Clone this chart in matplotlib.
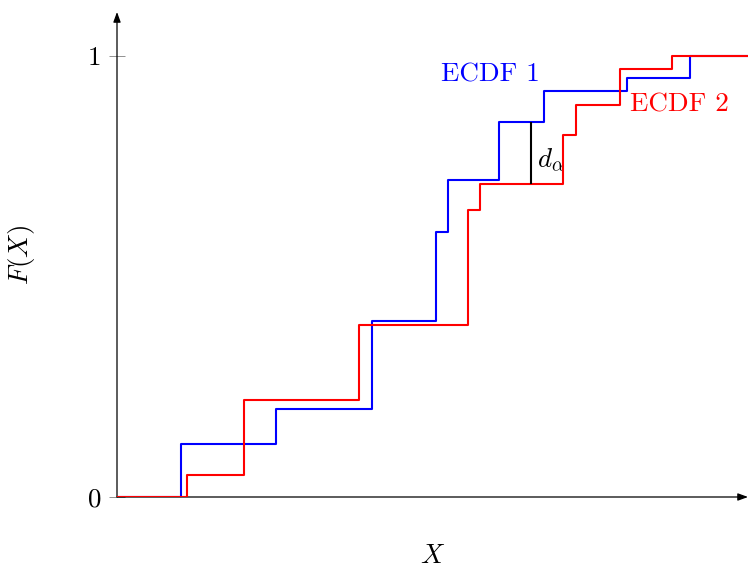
import numpy as np
import matplotlib
matplotlib.use("Agg")
import matplotlib.pyplot as plt

plt.rcParams['font.family'] = ['cmr10', 'DejaVu Serif']
plt.rcParams['mathtext.fontset'] = 'cm'
plt.rcParams['axes.formatter.use_mathtext'] = True

# step points of the two empirical CDFs (post-step)
ecdf1_x = [0, 1.01, 2.52, 4.04, 5.05, 5.24, 6.05, 6.77, 8.08, 9.08, 10.0]
ecdf1_y = [0, 0.12, 0.20, 0.40, 0.60, 0.72, 0.85, 0.92, 0.95, 1.00, 1.00]
ecdf2_x = [0, 1.11, 2.02, 3.84, 5.56, 5.75, 7.07, 7.27, 7.97, 8.79, 10.0]
ecdf2_y = [0, 0.05, 0.22, 0.39, 0.65, 0.71, 0.82, 0.89, 0.97, 1.00, 1.00]
d_x = 6.56
yticks = [0, 1]
yticklabels = ['0', '1']

FS = 19.5


def step_value(xs, ys, x):
    idx = np.searchsorted(xs, x, side='right') - 1
    return ys[idx]


fig = plt.figure(figsize=(7.48, 5.67), dpi=100)
ax = fig.add_axes([117 / 748, 70 / 567, 631 / 748, 485 / 567])
ax.set_xlim(0, 10)
ax.set_ylim(0, 1.1)

ax.step(ecdf1_x, ecdf1_y, where='post', color='blue', lw=1.5, zorder=3)
ax.step(ecdf2_x, ecdf2_y, where='post', color='red', lw=1.5, zorder=4)

# largest gap between the two curves
lo = step_value(ecdf2_x, ecdf2_y, d_x)
hi = step_value(ecdf1_x, ecdf1_y, d_x)
ax.vlines(d_x, lo, hi, color='black', lw=1.5, zorder=5)
ax.text(d_x + 0.1, (lo + hi) / 2 - 0.017, r'$d_\alpha$', fontsize=FS, va='center', ha='left')

ax.text(5.13, 0.957, 'ECDF 1', color='blue', fontsize=FS, va='center', ha='left')
ax.text(8.13, 0.890, 'ECDF 2', color='red', fontsize=FS, va='center', ha='left')

# axes drawn as arrows
for s in ax.spines.values():
    s.set_visible(False)
arrow = dict(arrowstyle='-|>,head_length=0.6,head_width=0.22', lw=0.9, color='black',
             shrinkA=0, shrinkB=0, mutation_scale=10)
ax.annotate('', xy=(1.0, 0), xytext=(0, 0), xycoords='axes fraction', arrowprops=arrow)
ax.annotate('', xy=(0, 1.0), xytext=(0, 0), xycoords='axes fraction', arrowprops=arrow)

ax.set_xticks([])
ax.set_yticks(yticks)
ax.set_yticklabels(yticklabels, fontsize=FS)
ax.tick_params(axis='y', direction='inout', length=11, width=0.6, color='gray', pad=6)

ax.set_xlabel(r'$X$', fontsize=FS)
ax.xaxis.set_label_coords(0.5, -0.098)
ax.set_ylabel(r'$F(X)$', fontsize=FS)
ax.yaxis.set_label_coords(-0.127, 0.5)

fig.savefig('out.png', dpi=100)
